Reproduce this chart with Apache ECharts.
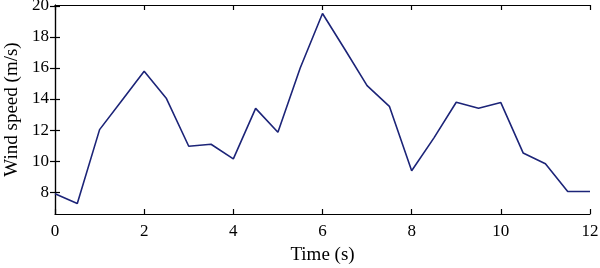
<!DOCTYPE html>
<html>
<head>
<meta charset="utf-8">
<script src="https://cdn.jsdelivr.net/npm/echarts@6/dist/echarts.min.js"></script>
<style>html,body{margin:0;padding:0;background:#fff}#c{width:600px;height:268px}</style>
</head>
<body>
<div id="c"></div>
<script>
const times = [0,0.5,1,1.5,2,2.5,3,3.5,4,4.5,5,5.5,6,6.5,7,7.5,8,8.5,9,9.5,10,10.5,11,11.5,12];
const speeds = [7.9,7.27,12.03,13.9,15.78,14.03,10.96,11.09,10.15,13.4,11.86,16.0,19.5,17.2,14.86,13.53,9.38,11.5,13.79,13.4,13.77,10.53,9.83,8.05,8.05];
const xTicks = [0,2,4,6,8,10,12];
const yTicks = [8,10,12,14,16,18,20];
const xName = 'Time (s)';
const yName = 'Wind speed (m/s)';

const font = 'Liberation Serif';
const chart = echarts.init(document.getElementById('c'), null, {renderer:'canvas'});
const axisLine = {show:true, lineStyle:{color:'#000', width:1.2}};
const tick = (vals) => ({show:true, inside:true, length:5, customValues: vals, lineStyle:{color:'#000', width:1.2}});
chart.setOption({
  animation:false,
  grid:{left:55, right:10, top:5, bottom:54, containLabel:false, outerBoundsMode:'none'},
  xAxis:[{
    type:'value', min:0, max:12, position:'bottom',
    name:xName, nameLocation:'middle', nameGap:32,
    nameTextStyle:{fontFamily:font, fontSize:19, color:'#000'},
    axisLine, axisTick:tick(xTicks),
    axisLabel:{customValues:xTicks, fontFamily:font, fontSize:17, color:'#000', margin:9},
    splitLine:{show:false}
  },{
    type:'value', min:0, max:12, position:'top',
    axisLine, axisTick:tick(xTicks), axisLabel:{show:false}, splitLine:{show:false}
  }],
  yAxis:[{
    type:'value', min:6.6, max:20.05, position:'left',
    name:yName, nameLocation:'middle', nameGap:32, nameRotate:90,
    nameTextStyle:{fontFamily:font, fontSize:19, color:'#000'},
    axisLine, axisTick:tick(yTicks),
    axisLabel:{customValues:yTicks, fontFamily:font, fontSize:17, color:'#000', margin:6},
    splitLine:{show:false}
  },{
    type:'value', min:6.6, max:20.05, position:'right',
    axisLine, axisTick:tick(yTicks), axisLabel:{show:false}, splitLine:{show:false}
  }],
  series:[{
    type:'line', xAxisIndex:0, yAxisIndex:0,
    data: times.map((t,i)=>[t, speeds[i]]),
    showSymbol:false, symbol:'none',
    lineStyle:{color:'#1c2478', width:1.6}
  }]
});
</script>
</body>
</html>
